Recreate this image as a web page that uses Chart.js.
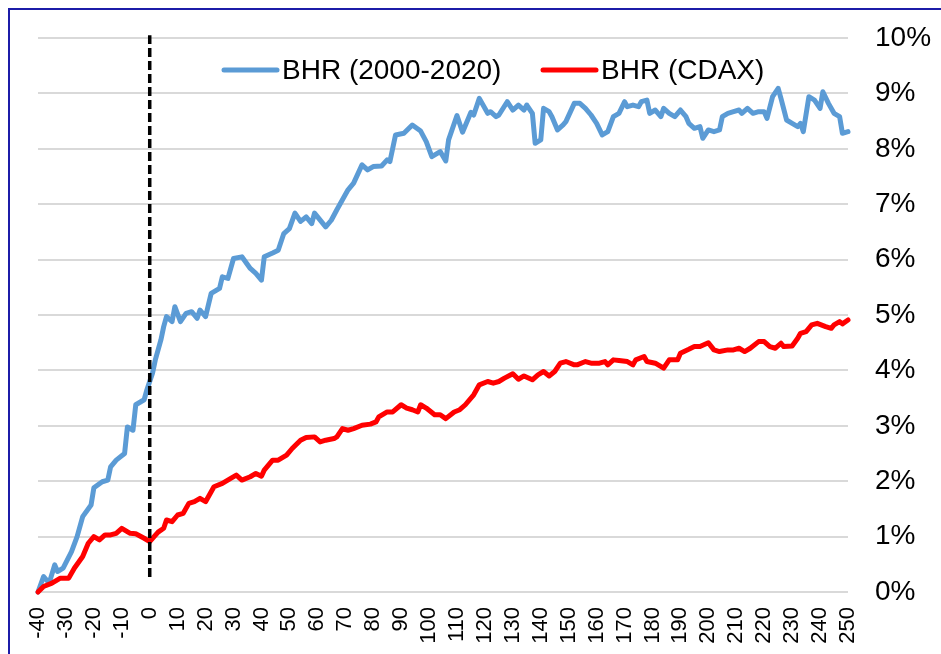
<!DOCTYPE html>
<html>
<head>
<meta charset="utf-8">
<script src="https://cdn.jsdelivr.net/npm/chart.js@4/dist/chart.umd.min.js"></script>
<style>
  html, body { margin: 0; padding: 0; background: #fff; }
  #wrap { position: relative; width: 941px; height: 654px; overflow: hidden; }
  #chart { position: absolute; left: 0; top: 0; }
  #frame {
    position: absolute; left: 8px; top: 8px; width: 1000px; height: 700px;
    border-left: 2px solid #1c1ca8; border-top: 2px solid #1c1ca8;
    pointer-events: none;
  }
</style>
</head>
<body>
<div id="wrap">
  <canvas id="chart" width="941" height="654"></canvas>
  <div id="frame"></div>
</div>
<script>
// days relative to event (x) and buy-and-hold returns in % (y)
const blueDays = [-40,-38,-36,-34,-33,-31,-28,-26,-24,-21,-20,-17,-15,-14,-12,-9,-8,-6,-5,-2,-1,1,2,4,5,6,8,9,11,13,15,17,18,20,22,25,26,28,30,33,36,38,40,41,44,46,48,50,52,54,56,58,59,63,65,67,69,71,73,76,78,80,83,85,86,88,91,94,97,99,101,104,106,107,110,112,115,116,118,121,122,124,125,128,130,132,134,135,137,138,140,141,143,144,146,148,149,152,154,156,158,160,162,164,166,168,170,171,173,175,176,178,179,181,183,184,186,188,190,192,193,195,197,198,200,202,204,205,207,209,211,212,214,216,218,220,221,223,225,226,228,230,232,233,234,236,238,240,241,243,245,247,248,250];
const bhr2000 = [0.00,0.28,0.16,0.49,0.37,0.43,0.73,1.00,1.36,1.57,1.88,1.99,2.02,2.26,2.38,2.50,2.98,2.92,3.38,3.47,3.65,3.95,4.19,4.55,4.79,4.97,4.88,5.15,4.88,5.03,5.06,4.94,5.09,4.97,5.39,5.48,5.69,5.66,6.02,6.05,5.84,5.75,5.63,6.05,6.12,6.17,6.47,6.56,6.84,6.69,6.77,6.65,6.84,6.59,6.71,6.90,7.08,7.26,7.38,7.71,7.62,7.68,7.69,7.80,7.77,8.25,8.28,8.43,8.32,8.13,7.86,7.95,7.78,8.16,8.60,8.30,8.66,8.61,8.91,8.64,8.67,8.58,8.61,8.85,8.70,8.79,8.70,8.79,8.64,8.10,8.16,8.73,8.67,8.58,8.34,8.43,8.49,8.82,8.82,8.73,8.61,8.46,8.25,8.31,8.58,8.64,8.85,8.76,8.79,8.76,8.85,8.88,8.64,8.70,8.58,8.73,8.64,8.58,8.70,8.58,8.46,8.37,8.40,8.19,8.34,8.31,8.34,8.58,8.64,8.67,8.70,8.64,8.73,8.64,8.67,8.67,8.55,8.94,9.09,8.91,8.52,8.46,8.40,8.46,8.31,8.94,8.88,8.73,9.03,8.82,8.64,8.58,8.28,8.31];

const redDays = [-40,-38,-35,-32,-29,-27,-24,-22,-20,-18,-16,-14,-12,-10,-7,-5,-2,0,3,5,6,8,10,12,14,16,18,20,23,26,29,31,33,36,38,40,41,44,46,49,51,54,56,59,61,63,66,67,69,71,73,76,79,81,82,85,87,90,92,94,96,97,99,102,104,106,109,111,113,116,118,121,123,125,127,130,132,134,137,139,141,143,145,147,149,152,153,156,158,161,163,164,166,168,171,173,174,177,178,181,184,186,189,190,193,195,197,200,202,204,207,209,211,213,215,218,220,222,224,226,227,230,232,233,235,237,239,242,244,245,247,248,250];
const bhrCdax = [0.00,0.10,0.16,0.25,0.25,0.43,0.64,0.88,1.00,0.94,1.03,1.03,1.06,1.15,1.06,1.05,0.97,0.91,1.08,1.15,1.30,1.27,1.39,1.42,1.60,1.63,1.69,1.63,1.90,1.96,2.05,2.11,2.02,2.08,2.14,2.09,2.20,2.38,2.38,2.47,2.59,2.74,2.79,2.80,2.71,2.74,2.77,2.80,2.95,2.92,2.95,3.01,3.03,3.07,3.16,3.25,3.25,3.38,3.32,3.29,3.25,3.38,3.32,3.20,3.20,3.13,3.25,3.29,3.38,3.56,3.74,3.80,3.77,3.80,3.86,3.94,3.84,3.90,3.83,3.92,3.98,3.90,3.98,4.13,4.16,4.10,4.10,4.16,4.13,4.13,4.16,4.10,4.19,4.18,4.16,4.10,4.19,4.25,4.16,4.13,4.04,4.19,4.19,4.31,4.38,4.43,4.43,4.50,4.37,4.34,4.37,4.37,4.40,4.34,4.40,4.52,4.52,4.43,4.40,4.49,4.43,4.44,4.58,4.67,4.70,4.82,4.85,4.79,4.76,4.82,4.88,4.84,4.91];

// event marker at day 0
const eventDay = [0, 0];
const eventRange = [0.27, 10.05];

const seriesNames = ['BHR (2000-2020)', 'BHR (CDAX)'];
const seriesColors = ['#5b9bd5', '#ff0000'];

const xMin = -40, xMax = 250, xStep = 10;
const yMin = 0, yMax = 10, yStep = 1;

const toPoints = (xs, ys) => xs.map((x, i) => ({ x: x, y: ys[i] }));

const legendPlugin = {
  id: 'legendInside',
  afterDraw(chart) {
    const ctx = chart.ctx;
    const items = [
      { x1: 224, x2: 277, tx: 282, color: seriesColors[0], text: seriesNames[0] },
      { x1: 543, x2: 596, tx: 601, color: seriesColors[1], text: seriesNames[1] }
    ];
    ctx.save();
    ctx.font = '28px "Liberation Sans", Arial, sans-serif';
    ctx.textBaseline = 'alphabetic';
    ctx.fillStyle = '#000';
    items.forEach(it => {
      ctx.beginPath();
      ctx.strokeStyle = it.color;
      ctx.lineWidth = 5;
      ctx.lineCap = 'round';
      ctx.moveTo(it.x1, 70);
      ctx.lineTo(it.x2, 70);
      ctx.stroke();
      ctx.fillText(it.text, it.tx, 79);
    });
    ctx.restore();
  }
};

const whiteBg = {
  id: 'whiteBg',
  beforeDraw(chart) {
    const ctx = chart.ctx;
    ctx.save();
    ctx.fillStyle = '#fff';
    ctx.fillRect(0, 0, chart.width, chart.height);
    ctx.restore();
  }
};

new Chart(document.getElementById('chart'), {
  type: 'line',
  data: {
    datasets: [
      {
        label: 'event',
        data: toPoints(eventDay, eventRange),
        borderColor: '#000',
        borderWidth: 3.5,
        borderDash: [9, 4],
        pointRadius: 0,
        clip: false,
        order: 0
      },
      {
        label: seriesNames[1],
        data: toPoints(redDays, bhrCdax),
        borderColor: seriesColors[1],
        borderWidth: 5,
        pointRadius: 0,
        tension: 0,
        borderJoinStyle: 'round',
        borderCapStyle: 'round',
        clip: false,
        order: 1
      },
      {
        label: seriesNames[0],
        data: toPoints(blueDays, bhr2000),
        borderColor: seriesColors[0],
        borderWidth: 5,
        pointRadius: 0,
        tension: 0,
        borderJoinStyle: 'round',
        borderCapStyle: 'round',
        clip: false,
        order: 2
      }
    ]
  },
  options: {
    responsive: false,
    animation: false,
    layout: { padding: { left: 38, top: 38, right: 0, bottom: 0 } },
    plugins: {
      legend: { display: false },
      tooltip: { enabled: false }
    },
    scales: {
      x: {
        type: 'linear',
        min: xMin,
        max: xMax,
        grid: { display: false, drawTicks: false },
        border: { display: false },
        ticks: {
          stepSize: xStep,
          autoSkip: false,
          minRotation: 90,
          maxRotation: 90,
          padding: 15,
          color: '#000',
          font: { family: '"Liberation Sans", Arial, sans-serif', size: 22 }
        },
        afterFit(scale) { scale.height = 62; }
      },
      y: {
        position: 'right',
        min: yMin,
        max: yMax,
        grid: { color: '#d9d9d9', lineWidth: 2, drawTicks: false },
        border: { display: false },
        ticks: {
          stepSize: yStep,
          padding: 27,
          color: '#000',
          callback: v => v + '%',
          font: { family: '"Liberation Sans", Arial, sans-serif', size: 28 }
        },
        afterFit(scale) {
          scale.width = 93;
          scale.paddingTop = 0;
          scale.paddingBottom = 0;
        }
      }
    }
  },
  plugins: [whiteBg, legendPlugin]
});
</script>
</body>
</html>
